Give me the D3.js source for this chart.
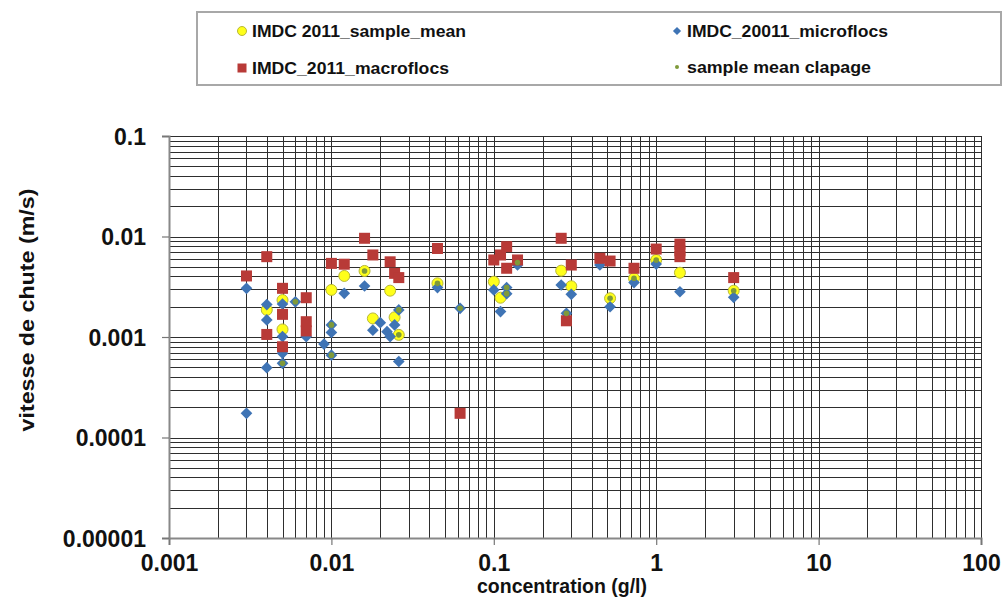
<!DOCTYPE html>
<html>
<head>
<meta charset="utf-8">
<script src="https://cdn.jsdelivr.net/npm/d3@7/dist/d3.min.js"></script>
<style>
  html, body { margin: 0; padding: 0; background: #fff; }
  svg { display: block; }
  text { font-family: "Liberation Sans", Arial, sans-serif; font-weight: bold; fill: #111; }
</style>
</head>
<body>
<svg id="chart" width="1003" height="599"></svg>
<script>
// Settling velocity (m/s) vs. concentration (g/l), log-log
const xTickValues = [0.001, 0.01, 0.1, 1, 10, 100];
const xTickLabels = ["0.001", "0.01", "0.1", "1", "10", "100"];
const yTickValues = [0.00001, 0.0001, 0.001, 0.01, 0.1];
const yTickLabels = ["0.00001", "0.0001", "0.001", "0.01", "0.1"];

const seriesNames = ["IMDC 2011_sample_mean", "IMDC_20011_microflocs", "IMDC_2011_macroflocs", "sample mean clapage"];

// [concentration g/l, vitesse m/s]
const sampleMean = [
  [0.004, 0.00186], [0.005, 0.00233], [0.005, 0.00119], [0.01, 0.00294],
  [0.012, 0.00405], [0.016, 0.00454], [0.018, 0.00153], [0.023, 0.00289],
  [0.0245, 0.00157], [0.026, 0.00105], [0.045, 0.00342], [0.1, 0.00355],
  [0.11, 0.00246], [0.26, 0.00457], [0.3, 0.0032], [0.52, 0.00243],
  [0.73, 0.00384], [1.0, 0.00584], [1.4, 0.00436], [3.0, 0.00289]
];

const microflocs = [
  [0.003, 0.00305], [0.003, 0.000174], [0.004, 0.0021], [0.004, 0.00148],
  [0.004, 0.000495], [0.005, 0.00213], [0.005, 0.00101], [0.005, 0.00069],
  [0.005, 0.000547], [0.006, 0.00224], [0.007, 0.00101], [0.009, 0.00085],
  [0.01, 0.00132], [0.01, 0.00111], [0.01, 0.00066], [0.012, 0.00272],
  [0.016, 0.00322], [0.018, 0.00117], [0.02, 0.00139], [0.0245, 0.00132],
  [0.022, 0.00113], [0.023, 0.00101], [0.026, 0.00186], [0.026, 0.00057],
  [0.045, 0.0031], [0.062, 0.00193], [0.1, 0.00294], [0.11, 0.00179],
  [0.12, 0.0031], [0.12, 0.0027], [0.14, 0.0052], [0.26, 0.00329],
  [0.28, 0.00172], [0.3, 0.00266], [0.45, 0.0052], [0.52, 0.002],
  [0.73, 0.00348], [1.0, 0.00532], [1.4, 0.00282], [3.0, 0.00248]
];

const macroflocs = [
  [0.003, 0.00405], [0.004, 0.0063], [0.004, 0.00106], [0.005, 0.00305],
  [0.005, 0.00168], [0.005, 0.0008], [0.007, 0.00246], [0.007, 0.00142],
  [0.007, 0.00115], [0.01, 0.0054], [0.012, 0.0053], [0.016, 0.0096],
  [0.018, 0.00655], [0.023, 0.0056], [0.0245, 0.0043], [0.026, 0.0039],
  [0.045, 0.0076], [0.062, 0.000174], [0.1, 0.00584], [0.11, 0.00655],
  [0.12, 0.00792], [0.12, 0.00483], [0.14, 0.00584], [0.26, 0.0096],
  [0.28, 0.00145], [0.3, 0.0052], [0.45, 0.00607], [0.52, 0.0057],
  [0.73, 0.00483], [1.0, 0.0075], [1.4, 0.0084], [1.4, 0.0072],
  [1.4, 0.0063], [3.0, 0.0039]
];

const clapage = [
  [0.005, 0.000547], [0.006, 0.00224], [0.01, 0.00132], [0.01, 0.00066],
  [0.016, 0.00454], [0.026, 0.00186], [0.026, 0.00105], [0.045, 0.00342],
  [0.062, 0.00193], [0.12, 0.0031], [0.12, 0.0027], [0.14, 0.0055],
  [0.28, 0.00172], [0.52, 0.00243], [0.73, 0.00384], [1.0, 0.00584],
  [3.0, 0.00289]
];

const svg = d3.select("#chart");
const plot = { left: 169, right: 981, top: 136, bottom: 538 };

const x = d3.scaleLog().domain([0.001, 100]).range([plot.left, plot.right]);
const y = d3.scaleLog().domain([0.00001, 0.1]).range([plot.bottom, plot.top]);

// every 1..9 step inside each decade, for the grid
function decadeSteps(lo, hi) {
  const out = [];
  for (let e = Math.round(Math.log10(lo)); e < Math.round(Math.log10(hi)); e++) {
    for (let k = 1; k <= 9; k++) out.push(k * Math.pow(10, e));
  }
  out.push(hi);
  return out;
}
const xGridVals = decadeSteps(0.001, 100);
const yGridVals = decadeSteps(0.00001, 0.1);

// grid
const gx = svg.append("g")
  .attr("transform", `translate(0,${plot.bottom})`)
  .call(d3.axisBottom(x).tickValues(xGridVals).tickSize(-(plot.bottom - plot.top)).tickFormat(""));
const gy = svg.append("g")
  .attr("transform", `translate(${plot.left},0)`)
  .call(d3.axisLeft(y).tickValues(yGridVals).tickSize(-(plot.right - plot.left)).tickFormat(""));
[gx, gy].forEach(g => {
  g.select(".domain").remove();
  g.selectAll(".tick line").attr("stroke", "#2e2e2e").attr("stroke-width", 1).attr("shape-rendering", "crispEdges");
});

// major axes with labels
const ax = svg.append("g")
  .attr("transform", `translate(0,${plot.bottom})`)
  .call(d3.axisBottom(x).tickValues(xTickValues).tickSize(7).tickPadding(6)
    .tickFormat((d, i) => xTickLabels[i]));
const ay = svg.append("g")
  .attr("transform", `translate(${plot.left},0)`)
  .call(d3.axisLeft(y).tickValues(yTickValues).tickSize(7).tickPadding(16)
    .tickFormat((d, i) => yTickLabels[i]));
[ax, ay].forEach(g => {
  g.select(".domain").attr("stroke", "#888").attr("stroke-width", 2);
  g.selectAll(".tick line").attr("stroke", "#777").attr("stroke-width", 1.2);
  g.selectAll(".tick text")
    .style("font-family", "'Liberation Sans', Arial, sans-serif")
    .style("font-weight", "bold").style("font-size", "23px").attr("fill", "#111");
});
ax.selectAll(".tick text").attr("dy", "0.71em").attr("y", 17);
ay.selectAll(".tick text").attr("dy", "0.36em");

// axis titles
svg.append("text")
  .attr("x", 562).attr("y", 593)
  .attr("text-anchor", "middle")
  .attr("textLength", 170).attr("lengthAdjust", "spacingAndGlyphs")
  .style("font-size", "21px")
  .text("concentration (g/l)");
svg.append("text")
  .attr("transform", "translate(34,310) rotate(-90)")
  .attr("text-anchor", "middle")
  .attr("textLength", 243).attr("lengthAdjust", "spacingAndGlyphs")
  .style("font-size", "20px")
  .text("vitesse de chute (m/s)");

// marker styles
const colors = { mean: "#ffff1a", meanStroke: "#b8b838", micro: "#3f74b5", macro: "#b83a37", clap: "#7f9a3a" };

const marks = svg.append("g");
marks.selectAll("circle.mean").data(sampleMean).join("circle")
  .attr("class", "mean")
  .attr("cx", d => x(d[0])).attr("cy", d => y(d[1])).attr("r", 5.5)
  .attr("fill", colors.mean).attr("stroke", colors.meanStroke).attr("stroke-width", 1);

const diamond = d3.symbol().type(d3.symbolSquare).size(68);
marks.selectAll("path.micro").data(microflocs).join("path")
  .attr("class", "micro")
  .attr("d", diamond)
  .attr("transform", d => `translate(${x(d[0])},${y(d[1])}) rotate(45)`)
  .attr("fill", colors.micro);

marks.selectAll("rect.macro").data(macroflocs).join("rect")
  .attr("class", "macro")
  .attr("x", d => x(d[0]) - 5.5).attr("y", d => y(d[1]) - 5.5)
  .attr("width", 11).attr("height", 11)
  .attr("fill", colors.macro);

marks.selectAll("circle.clap").data(clapage).join("circle")
  .attr("class", "clap")
  .attr("cx", d => x(d[0])).attr("cy", d => y(d[1])).attr("r", 2.8)
  .attr("fill", colors.clap);

// legend
const legend = svg.append("g");
legend.append("rect")
  .attr("x", 197).attr("y", 12).attr("width", 804).attr("height", 73)
  .attr("fill", "#fff").attr("stroke", "#a8a8a8").attr("stroke-width", 2);

const legendItems = [
  { name: seriesNames[0], kind: "mean", x: 242, y: 31, len: 214 },
  { name: seriesNames[1], kind: "micro", x: 677, y: 31, len: 201 },
  { name: seriesNames[2], kind: "macro", x: 242, y: 68, len: 197 },
  { name: seriesNames[3], kind: "clap", x: 677, y: 67, len: 184 }
];
legendItems.forEach(it => {
  if (it.kind === "mean") {
    legend.append("circle").attr("cx", it.x).attr("cy", it.y).attr("r", 4.5)
      .attr("fill", colors.mean).attr("stroke", colors.meanStroke);
  } else if (it.kind === "micro") {
    legend.append("path").attr("d", d3.symbol().type(d3.symbolSquare).size(34))
      .attr("transform", `translate(${it.x},${it.y}) rotate(45)`).attr("fill", colors.micro);
  } else if (it.kind === "macro") {
    legend.append("rect").attr("x", it.x - 4.5).attr("y", it.y - 4.5)
      .attr("width", 9).attr("height", 9).attr("fill", colors.macro);
  } else {
    legend.append("circle").attr("cx", it.x).attr("cy", it.y).attr("r", 2)
      .attr("fill", colors.clap);
  }
  legend.append("text")
    .attr("x", it.x + 10).attr("y", it.y)
    .attr("dy", "0.36em")
    .attr("textLength", it.len).attr("lengthAdjust", "spacingAndGlyphs")
    .style("font-size", "17px")
    .text(it.name);
});
</script>
</body>
</html>
